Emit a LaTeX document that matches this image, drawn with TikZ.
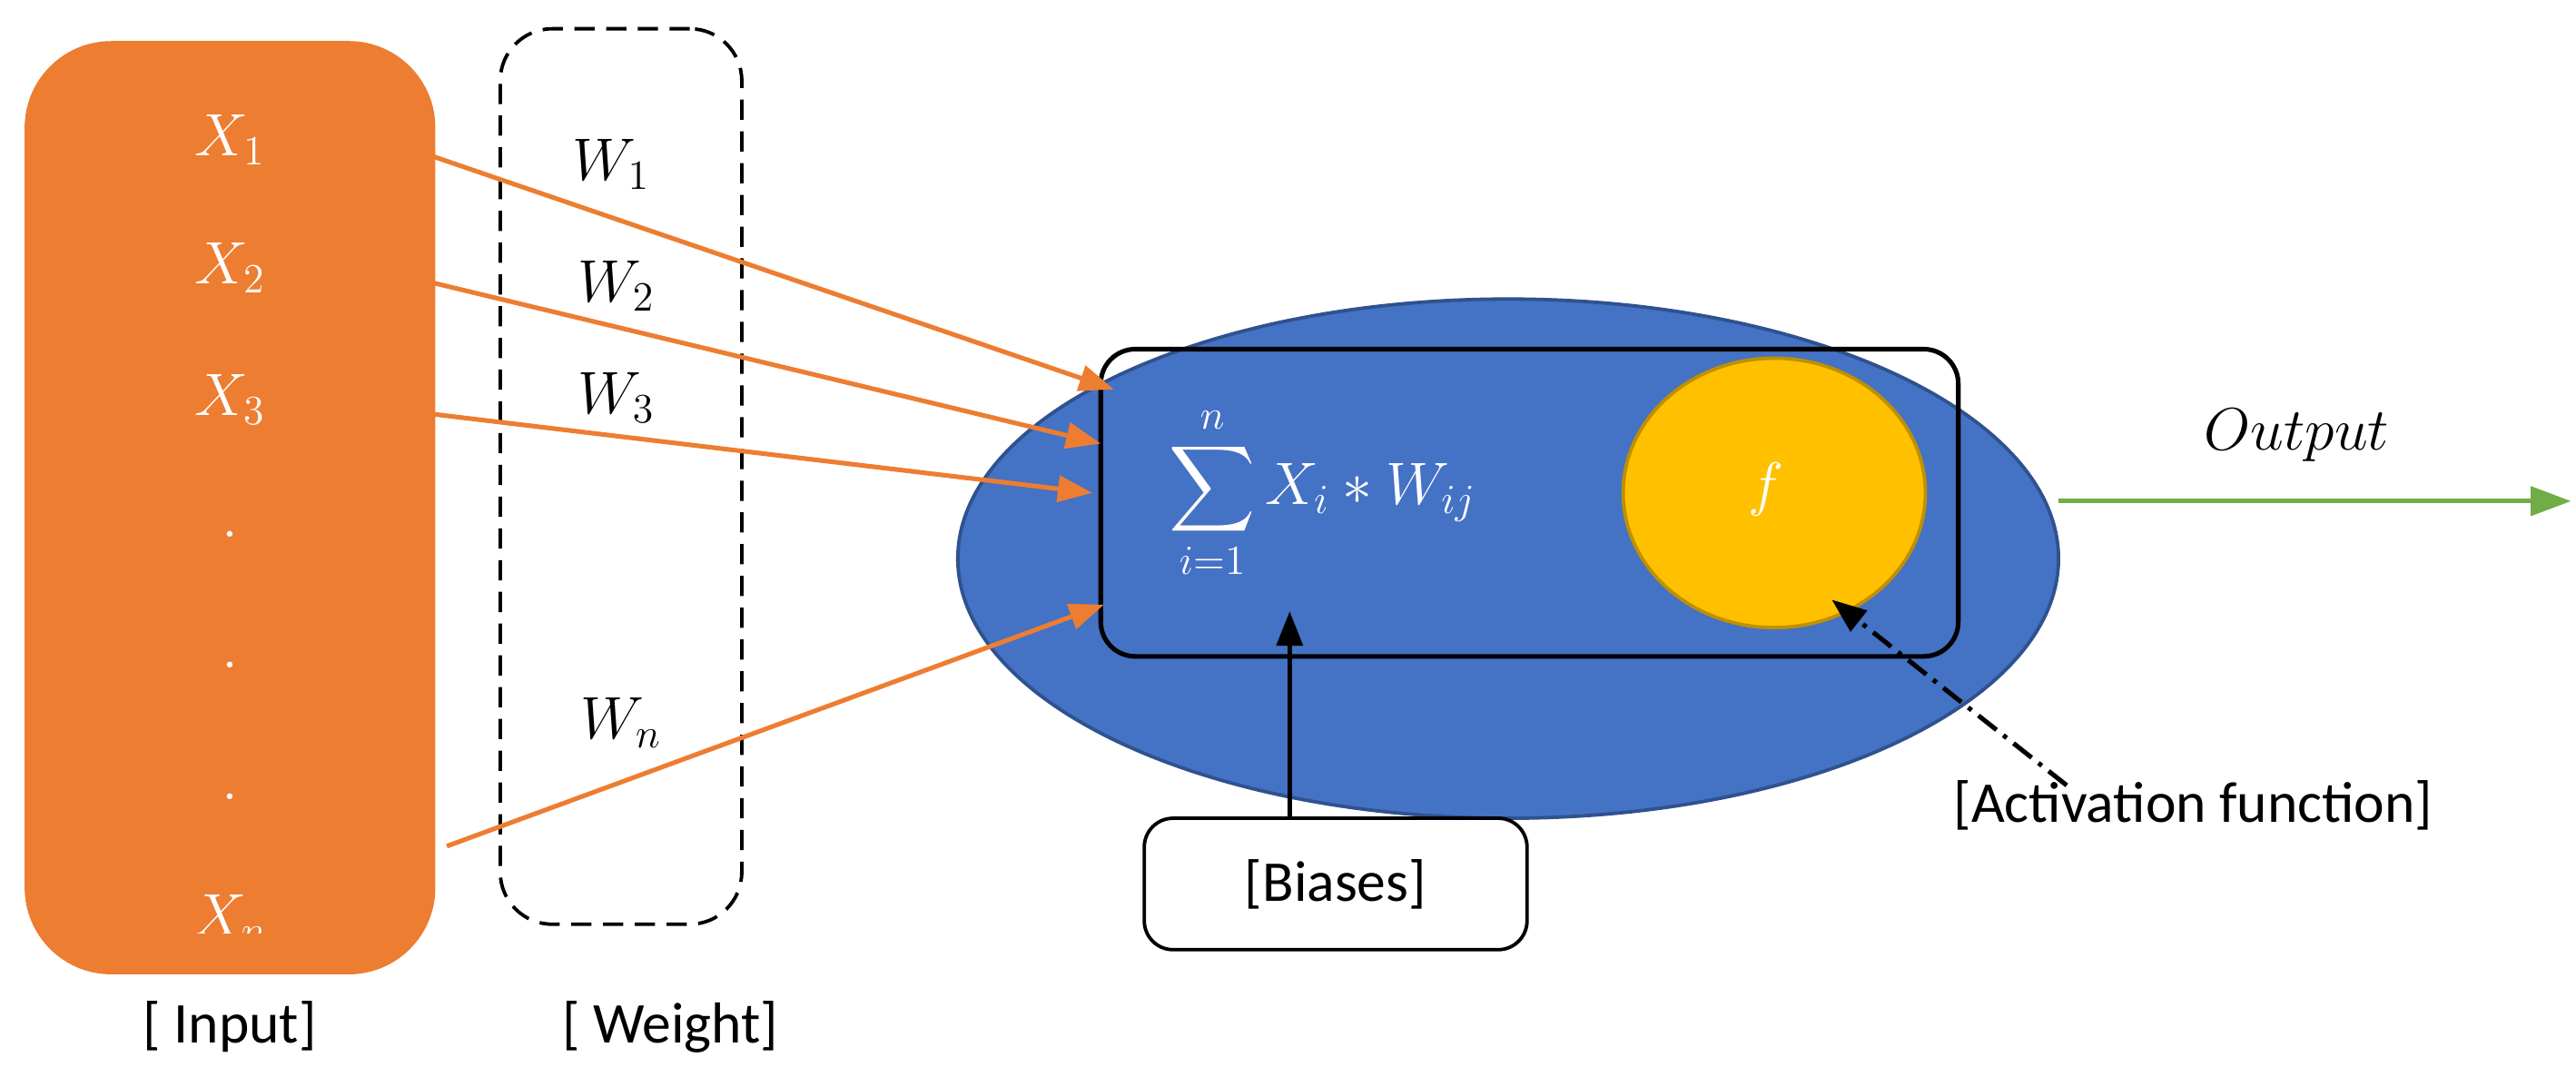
\documentclass[tikz,border=0pt]{standalone}
\usepackage{fontspec}
\setmainfont{Carlito}
\usepackage{amsmath}
\usetikzlibrary{arrows.meta,shapes.geometric}
\definecolor{org}{HTML}{ED7D31}
\definecolor{blu}{HTML}{4472C4}
\definecolor{blud}{HTML}{2F528F}
\definecolor{yel}{HTML}{FFC000}
\definecolor{yeld}{HTML}{BF9000}
\definecolor{grn}{HTML}{70AD47}
\begin{document}
\begin{tikzpicture}[x=0.02cm,y=-0.02cm,
  lbl/.style={font=\fontsize{20}{24}\selectfont},
  mth/.style={font=\fontsize{22}{26}\selectfont},
  oarr/.style={org,line width=1.6pt,-{Triangle[length=12pt,width=9pt]}},
  karr/.style={black,line width=1.6pt,-{Triangle[length=12pt,width=9pt]}}]
\useasboundingbox (0,0) rectangle (1568,655);
% input box
\node[draw=none,fill=org,rounded corners=30pt,minimum width=250*0.02cm,minimum height=568*0.02cm] (inp) at (140,309) {};
\node[draw,dash pattern=on 7pt off 4pt,line width=1.2pt,rounded corners=18pt,minimum width=147*0.02cm,minimum height=545*0.02cm] (wt) at (378,290) {};
\foreach \n/\y/\t in {x1/85/X_1,x2/163/X_2,x3/243/X_3,d1/325/.,d2/405/.,d3/485/.}
  \node[mth,white] (\n) at (140,\y) {$\t$};
\begin{scope}
\clip (15,25) rectangle (265,568);
\node[mth,white] (xn) at (140,560) {$X_n$};
\end{scope}
\node[mth] (w1) at (372,100) {$W_1$};
\node[mth] (w2) at (375,174) {$W_2$};
\node[mth] (w3) at (375,242) {$W_3$};
\node[mth] (wn) at (378,440) {$W_n$};
\node[lbl] (li) at (140,625) {[ Input]};
\node[lbl] (lw) at (408,625) {[ Weight]};
% neuron
\node[ellipse,draw=blud,line width=1.2pt,fill=blu,minimum width=670*0.02cm,minimum height=316*0.02cm,inner sep=0] (neu) at (918,340) {};
\node[draw,line width=1.6pt,rounded corners=12pt,minimum width=522*0.02cm,minimum height=187*0.02cm] (box) at (931,306) {};
\node[mth,white] (sum) at (805,300) {$\displaystyle\sum_{i=1}^{n} X_i * W_{ij}$};
\node[ellipse,draw=yeld,line width=1.2pt,fill=yel,minimum width=184*0.02cm,minimum height=164*0.02cm,inner sep=0] (act) at (1080,300) {};
\node[mth,white] (f) at (1075,298) {$f$};
\node[mth] (out) at (1398,265) {$Output$};
\coordinate (o1) at (1253,305);
\coordinate (o2) at (1565,305);
\draw[grn,line width=1.6pt,-{Triangle[length=14pt,width=10pt]}] (o1) -- (o2);
% input arrows
\coordinate (a1) at (263,95); \coordinate (b1) at (678,237);
\coordinate (a2) at (263,172); \coordinate (b2) at (670,270);
\coordinate (a3) at (263,252); \coordinate (b3) at (665,300);
\coordinate (a4) at (272,515); \coordinate (b4) at (672,368);
\foreach \i in {1,2,3,4} \draw[oarr] (a\i) -- (b\i);
% biases
\node[draw,lbl,line width=1.2pt,rounded corners=10pt,minimum width=233*0.02cm,minimum height=80*0.02cm] (bias) at (813,538) {[Biases]};
\coordinate (bt) at (785,372);
\draw[karr] (bias.north -| bt) -- (bt);
% activation
\node[lbl] (al) at (1335,490) {[Activation function]};
\coordinate (as) at (1258,478);
\coordinate (ae) at (1115,365);
\draw[karr,dash pattern=on 8pt off 3pt on 1.5pt off 3pt] (as) -- (ae);
\end{tikzpicture}
\end{document}
